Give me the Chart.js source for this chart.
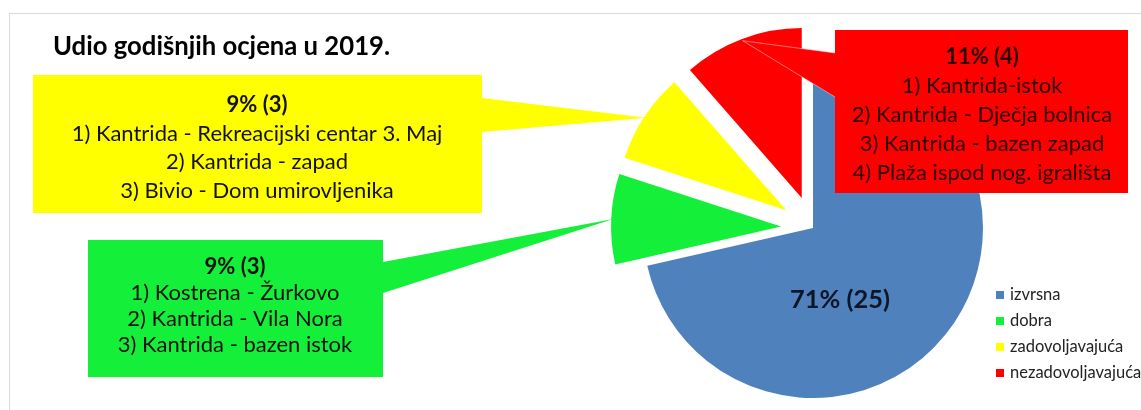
<!DOCTYPE html>
<html>
<head>
<meta charset="utf-8">
<script src="https://cdn.jsdelivr.net/npm/chart.js@4.4.1/dist/chart.umd.min.js"></script>
<style>
  html, body { margin: 0; padding: 0; background: #fff; }
  canvas { display: block; }
</style>
</head>
<body>
<canvas id="pie" width="1141" height="410"></canvas>
<script>
'use strict';

// ── podaci
const title  = 'Udio godišnjih ocjena u 2019.';
const labels = ['izvrsna', 'dobra', 'zadovoljavajuća', 'nezadovoljavajuća'];
const counts = [25, 3, 3, 4];
const colors = ['#4f81bd', '#14f03a', '#ffff00', '#ff0000'];
const sitesDobra = ['Kostrena - Žurkovo', 'Kantrida - Vila Nora', 'Kantrida - bazen istok'];
const sitesZadov = ['Kantrida - Rekreacijski centar 3. Maj', 'Kantrida - zapad', 'Bivio - Dom umirovljenika'];
const sitesNezad = ['Kantrida-istok', 'Kantrida - Dječja bolnica', 'Kantrida - bazen zapad', 'Plaža ispod nog. igrališta'];

const FONT = 'Lato, "Open Sans", sans-serif';
const EXPLODE = [0, 32, 32, 32];   // izvučene kriške, px
const total = counts.reduce((a, b) => a + b, 0);
const pctLabel = i => Math.round(counts[i] / total * 100) + '% (' + counts[i] + ')';

// ── oblačići (pozicija okvira, strana šiljka, y baze šiljka, prvi red, razmak)
const callouts = [
  { idx: 1, sites: sitesDobra, box: [88, 240, 295, 137], side: 'right', base: [262, 293], cx: 235, y0: 267, lh: 26 },
  { idx: 2, sites: sitesZadov, box: [33, 75, 449, 138],  side: 'right', base: [98, 132],  cx: 257, y0: 105, lh: 28.5 },
  { idx: 3, sites: sitesNezad, box: [835, 30, 293, 163], side: 'left',  base: [53, 97],   cx: 982, y0: 57,  lh: 29 },
];

function fitSize(ctx, text, weight, width) {
  ctx.font = weight + ' 100px ' + FONT;
  return 100 * width / ctx.measureText(text).width;
}

function arcTip(chart, i) {
  const arc = chart.getDatasetMeta(0).data[i];
  const mid = (arc.startAngle + arc.endAngle) / 2;
  const r = arc.outerRadius - 2;
  return { x: arc.x + Math.cos(mid) * r, y: arc.y + Math.sin(mid) * r };
}

const decor = {
  id: 'decor',
  // Chart.js offset also grows the radius of narrow slices, so move them by hand instead
  afterDatasetUpdate(chart, args) {
    if (args.index !== 0) return;
    args.meta.data.forEach((arc, i) => {
      const mid = (arc.startAngle + arc.endAngle) / 2;
      arc.x += Math.cos(mid) * EXPLODE[i];
      arc.y += Math.sin(mid) * EXPLODE[i];
    });
  },
  beforeDraw(chart) {
    const ctx = chart.ctx;
    ctx.save();
    ctx.fillStyle = '#fff';
    ctx.fillRect(0, 0, chart.width, chart.height);
    ctx.strokeStyle = '#d9d9d9';
    ctx.lineWidth = 1;
    ctx.strokeRect(9.5, 13.5, chart.width + 20, chart.height + 20);
    ctx.restore();
  },
  afterDatasetsDraw(chart) {
    const ctx = chart.ctx;
    ctx.save();

    // oblačići sa šiljkom prema kriški
    const boxSize = fitSize(ctx, '1) ' + sitesZadov[0], 'normal', 370);
    callouts.forEach(c => {
      const [x, y, w, h] = c.box;
      const tip = arcTip(chart, c.idx);
      ctx.beginPath();
      if (c.side === 'right') {
        ctx.moveTo(x, y); ctx.lineTo(x + w, y); ctx.lineTo(x + w, c.base[0]);
        ctx.lineTo(tip.x, tip.y);
        ctx.lineTo(x + w, c.base[1]); ctx.lineTo(x + w, y + h); ctx.lineTo(x, y + h);
      } else {
        ctx.moveTo(x, y); ctx.lineTo(x + w, y); ctx.lineTo(x + w, y + h); ctx.lineTo(x, y + h);
        ctx.lineTo(x, c.base[1]);
        ctx.lineTo(tip.x, tip.y);
        ctx.lineTo(x, c.base[0]);
      }
      ctx.closePath();
      ctx.fillStyle = colors[c.idx];
      ctx.fill();
      if (c.idx === 3) {   // svijetli obrub šiljka preko kriške
        ctx.strokeStyle = 'rgba(255,200,200,0.7)';
        ctx.lineWidth = 0.8;
        ctx.beginPath();
        ctx.moveTo(x, c.base[0]); ctx.lineTo(tip.x, tip.y); ctx.lineTo(x, c.base[1]);
        ctx.stroke();
      }

      ctx.textAlign = 'center';
      ctx.textBaseline = 'middle';
      ctx.fillStyle = c.idx === 3 ? '#2a0000' : '#111';
      ctx.font = 'bold ' + boxSize.toFixed(1) + 'px ' + FONT;
      ctx.fillText(pctLabel(c.idx), c.cx, c.y0);
      ctx.font = boxSize.toFixed(1) + 'px ' + FONT;
      c.sites.forEach((s, k) => ctx.fillText((k + 1) + ') ' + s, c.cx, c.y0 + c.lh * (k + 1)));
    });

    // oznaka velike kriške
    const big = chart.getDatasetMeta(0).data[0];
    ctx.fillStyle = '#0d1526';
    ctx.font = 'bold ' + fitSize(ctx, pctLabel(0), 'bold', 100).toFixed(1) + 'px ' + FONT;
    ctx.textAlign = 'center';
    ctx.textBaseline = 'middle';
    ctx.fillText(pctLabel(0), big.x + 27, big.y + 72);

    // naslov
    ctx.fillStyle = '#000';
    ctx.font = 'bold ' + fitSize(ctx, title, 'bold', 337).toFixed(1) + 'px ' + FONT;
    ctx.textAlign = 'left';
    ctx.textBaseline = 'alphabetic';
    ctx.fillText(title, 53, 55);

    // legenda
    const legSize = fitSize(ctx, labels[2], 'normal', 113);
    ctx.font = legSize.toFixed(1) + 'px ' + FONT;
    ctx.textBaseline = 'middle';
    labels.forEach((lab, i) => {
      const ly = 295 + i * 26;
      ctx.fillStyle = colors[i];
      ctx.fillRect(996, ly - 4, 8, 8);
      ctx.fillStyle = '#222';
      ctx.fillText(lab, 1010, ly);
    });
    ctx.restore();
  }
};

new Chart(document.getElementById('pie'), {
  type: 'pie',
  data: {
    labels,
    datasets: [{
      data: counts,
      backgroundColor: colors,
      borderWidth: 0,
      radius: 170,
    }]
  },
  options: {
    responsive: false,
    animation: false,
    events: [],
    layout: { padding: { left: 500, right: 15, top: 56, bottom: 10 } },
    plugins: { legend: { display: false }, tooltip: { enabled: false }, title: { display: false } }
  },
  plugins: [decor]
});
</script>
</body>
</html>
